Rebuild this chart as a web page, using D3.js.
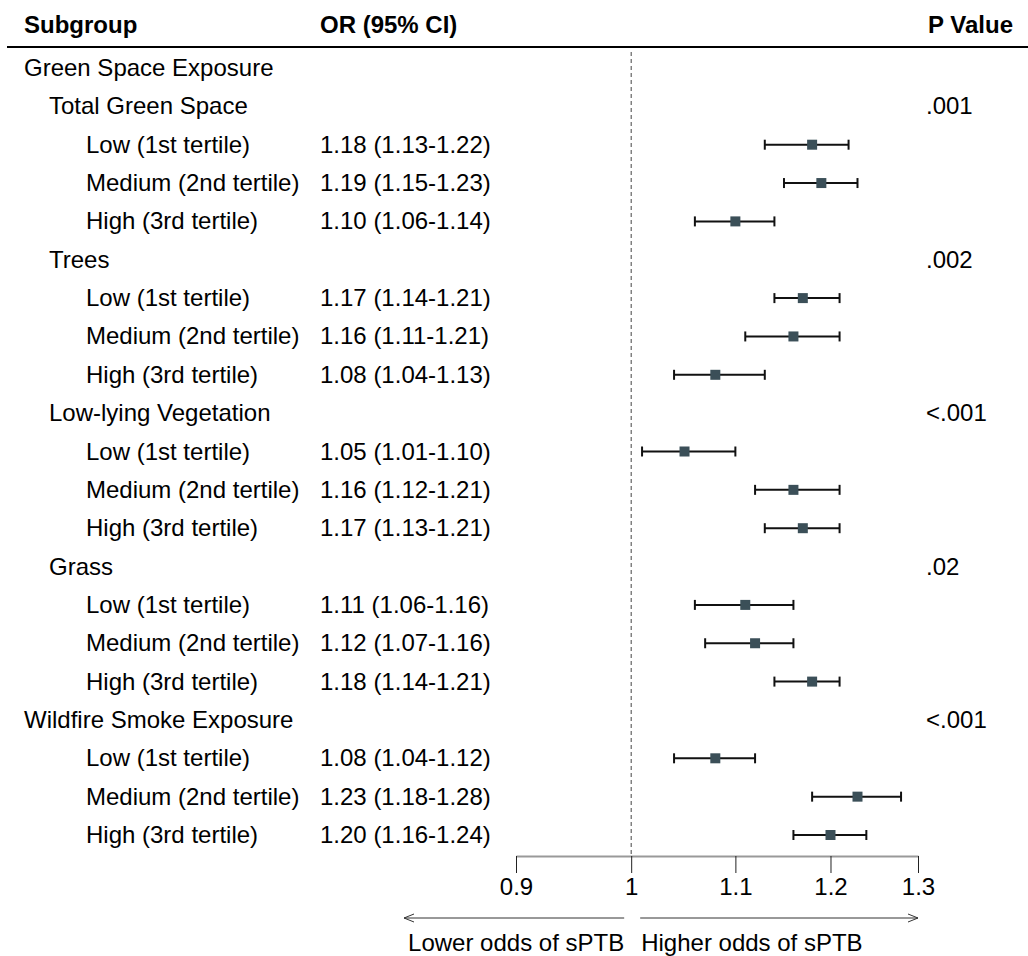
<!DOCTYPE html>
<html>
<head>
<meta charset="utf-8">
<script src="https://cdn.jsdelivr.net/npm/d3@7"></script>
<style>
  body { margin: 0; background: #fff; }
  svg text { font-family: "Liberation Sans", Arial, sans-serif; fill: #000; }
</style>
</head>
<body>
<div id="chart"></div>
<script>
// Rows of the forest plot, top to bottom
const labels = [
  'Green Space Exposure',
  'Total Green Space', 'Low (1st tertile)', 'Medium (2nd tertile)', 'High (3rd tertile)',
  'Trees', 'Low (1st tertile)', 'Medium (2nd tertile)', 'High (3rd tertile)',
  'Low-lying Vegetation', 'Low (1st tertile)', 'Medium (2nd tertile)', 'High (3rd tertile)',
  'Grass', 'Low (1st tertile)', 'Medium (2nd tertile)', 'High (3rd tertile)',
  'Wildfire Smoke Exposure', 'Low (1st tertile)', 'Medium (2nd tertile)', 'High (3rd tertile)'
];
const levels = [0, 1, 2, 2, 2, 1, 2, 2, 2, 1, 2, 2, 2, 1, 2, 2, 2, 0, 2, 2, 2];
const or = [null, null, 1.18, 1.19, 1.10, null, 1.17, 1.16, 1.08, null, 1.05, 1.16, 1.17,
  null, 1.11, 1.12, 1.18, null, 1.08, 1.23, 1.20];
const lo = [null, null, 1.13, 1.15, 1.06, null, 1.14, 1.11, 1.04, null, 1.01, 1.12, 1.13,
  null, 1.06, 1.07, 1.14, null, 1.04, 1.18, 1.16];
const hi = [null, null, 1.22, 1.23, 1.14, null, 1.21, 1.21, 1.13, null, 1.10, 1.21, 1.21,
  null, 1.16, 1.16, 1.21, null, 1.12, 1.28, 1.24];
const pValues = [null, '.001', null, null, null, '.002', null, null, null, '<.001', null, null, null,
  '.02', null, null, null, '<.001', null, null, null];
const ticks = [0.9, 1, 1.1, 1.2, 1.3];

const W = 1028, H = 956;
const fontSize = 24;
const indent = [24, 49, 86];
const orX = 320, pX = 926;
const rowTop = 68, rowStep = 38.35;

const svg = d3.select('#chart').append('svg')
  .attr('width', W)
  .attr('height', H);

const x = d3.scaleLog().domain([0.9, 1.3]).range([516, 918]);
const y = i => rowTop + i * rowStep;
const axisY = 856;

// Header
const header = svg.append('g').attr('font-weight', 'bold').attr('font-size', fontSize);
header.append('text').attr('x', indent[0]).attr('y', 33).text('Subgroup');
header.append('text').attr('x', orX).attr('y', 33).text('OR (95% CI)');
header.append('text').attr('x', 1013).attr('y', 33).attr('text-anchor', 'end').text('P Value');

svg.append('line')
  .attr('x1', 7).attr('x2', W)
  .attr('y1', 47).attr('y2', 47)
  .attr('stroke', '#000').attr('stroke-width', 2);

// Reference line at OR = 1
svg.append('line')
  .attr('x1', x(1)).attr('x2', x(1))
  .attr('y1', 52).attr('y2', axisY)
  .attr('stroke', '#444').attr('stroke-width', 1)
  .attr('stroke-dasharray', '4,3');

// Row labels
const rows = svg.append('g').attr('font-size', fontSize);
rows.selectAll('.lab')
  .data(labels)
  .join('text')
  .attr('x', (d, i) => indent[levels[i]])
  .attr('y', (d, i) => y(i) + 8)
  .text(d => d);

rows.selectAll('.or')
  .data(d3.range(labels.length).filter(i => or[i] != null))
  .join('text')
  .attr('x', orX)
  .attr('y', i => y(i) + 8)
  .text(i => `${or[i].toFixed(2)} (${lo[i].toFixed(2)}-${hi[i].toFixed(2)})`);

rows.selectAll('.p')
  .data(d3.range(labels.length).filter(i => pValues[i] != null))
  .join('text')
  .attr('x', pX)
  .attr('y', i => y(i) + 8)
  .text(i => pValues[i]);

// CI whiskers and point estimates
const est = d3.range(labels.length).filter(i => or[i] != null);
const g = svg.append('g');
g.selectAll('.ci')
  .data(est)
  .join('line')
  .attr('x1', i => x(lo[i])).attr('x2', i => x(hi[i]))
  .attr('y1', i => y(i)).attr('y2', i => y(i))
  .attr('stroke', '#111').attr('stroke-width', 2);
g.selectAll('.capL')
  .data(est)
  .join('line')
  .attr('x1', i => x(lo[i])).attr('x2', i => x(lo[i]))
  .attr('y1', i => y(i) - 5).attr('y2', i => y(i) + 5)
  .attr('stroke', '#111').attr('stroke-width', 2);
g.selectAll('.capR')
  .data(est)
  .join('line')
  .attr('x1', i => x(hi[i])).attr('x2', i => x(hi[i]))
  .attr('y1', i => y(i) - 5).attr('y2', i => y(i) + 5)
  .attr('stroke', '#111').attr('stroke-width', 2);
g.selectAll('.pt')
  .data(est)
  .join('rect')
  .attr('x', i => x(or[i]) - 5)
  .attr('y', i => y(i) - 5)
  .attr('width', 10).attr('height', 10)
  .attr('fill', '#3b4f58');

// Axis
const axis = svg.append('g')
  .attr('transform', `translate(0,${axisY})`)
  .call(d3.axisBottom(x).tickValues(ticks).tickFormat(d3.format('')).tickSize(17).tickSizeOuter(0));
axis.select('.domain').attr('stroke', '#999').attr('stroke-width', 2);
axis.selectAll('.tick line').attr('stroke', '#222');
axis.selectAll('.tick text')
  .attr('font-family', '"Liberation Sans", Arial, sans-serif')
  .attr('font-size', fontSize)
  .attr('fill', '#000')
  .attr('dy', '0.78em');

// Direction arrows
const defs = svg.append('defs');
defs.append('marker')
  .attr('id', 'arrow')
  .attr('viewBox', '0 0 10 10')
  .attr('refX', 10).attr('refY', 5)
  .attr('markerWidth', 10).attr('markerHeight', 10)
  .attr('markerUnits', 'userSpaceOnUse')
  .attr('orient', 'auto')
  .append('path')
  .attr('d', 'M0,1 L10,5 L0,9')
  .attr('fill', 'none')
  .attr('stroke', '#333')
  .attr('stroke-width', 1);

const arrowY = 918;
svg.append('line')
  .attr('x1', x(1) - 7).attr('x2', 404)
  .attr('y1', arrowY).attr('y2', arrowY)
  .attr('stroke', '#333').attr('stroke-width', 1)
  .attr('marker-end', 'url(#arrow)');
svg.append('line')
  .attr('x1', x(1) + 9).attr('x2', x(1.3))
  .attr('y1', arrowY).attr('y2', arrowY)
  .attr('stroke', '#333').attr('stroke-width', 1)
  .attr('marker-end', 'url(#arrow)');

svg.append('text')
  .attr('x', x(1) - 7).attr('y', 951)
  .attr('text-anchor', 'end')
  .attr('font-size', fontSize)
  .text('Lower odds of sPTB');
svg.append('text')
  .attr('x', x(1) + 10).attr('y', 951)
  .attr('font-size', fontSize)
  .text('Higher odds of sPTB');
</script>
</body>
</html>
